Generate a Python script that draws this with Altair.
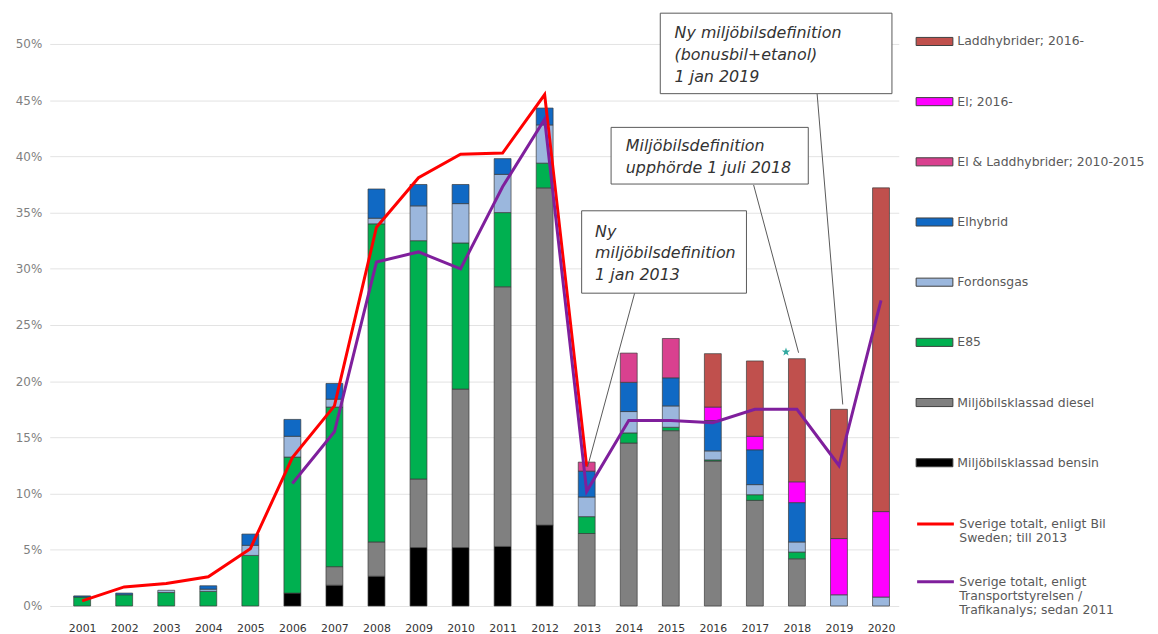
import altair as alt
import pandas as pd

years = list(range(2001, 2021))

bar_series = ["Laddhybrider; 2016-", "El; 2016-", "El & Laddhybrider; 2010-2015",
              "Elhybrid", "Fordonsgas", "E85", "Miljöbilsklassad diesel", "Miljöbilsklassad bensin"]
bar_colors = ["#c0504d", "#ff00ff", "#d9418f", "#1069c4", "#9bb7dd", "#00b050", "#808080", "#000000"]

bensin = [0, 0, 0, 0, 0, 1.15, 1.85, 2.65, 5.2, 5.2, 5.3, 7.2, 0, 0, 0, 0, 0, 0, 0, 0]
diesel = [0, 0, 0, 0, 0, 0, 1.65, 3.05, 6.1, 14.1, 23.1, 30.0, 6.45, 14.5, 15.6, 12.9, 9.4, 4.2, 0, 0]
e85 = [0.8, 1.0, 1.2, 1.3, 4.5, 12.1, 14.2, 28.3, 21.2, 13.0, 6.6, 2.2, 1.5, 0.9, 0.3, 0.1, 0.5, 0.6, 0, 0]
fordonsgas = [0, 0, 0.2, 0.2, 0.9, 1.85, 0.7, 0.5, 3.1, 3.5, 3.4, 3.4, 1.75, 1.9, 1.9, 0.8, 0.9, 0.9, 1.0, 0.8]
elhybrid = [0.1, 0.15, 0, 0.3, 1.0, 1.5, 1.4, 2.6, 1.9, 1.7, 1.4, 1.5, 2.3, 2.6, 2.5, 2.7, 3.1, 3.5, 0, 0]
el_ladd = [0, 0, 0, 0, 0, 0, 0, 0, 0, 0, 0, 0, 0.8, 2.6, 3.5, 0, 0, 0, 0, 0]
el = [0, 0, 0, 0, 0, 0, 0, 0, 0, 0, 0, 0, 0, 0, 0, 1.2, 1.2, 1.85, 5.0, 7.6]
ladd = [0, 0, 0, 0, 0, 0, 0, 0, 0, 0, 0, 0, 0, 0, 0, 4.75, 6.7, 10.95, 11.5, 28.8]

line_series = ["Sverige totalt, enligt Bil\nSweden; till 2013",
               "Sverige totalt, enligt\nTransportstyrelsen /\nTrafikanalys; sedan 2011"]
line_colors = ["#ff0000", "#7f1f9c"]
bil_sweden = [0.45, 1.7, 2.0, 2.6, 5.1, 13.2, 17.8, 33.7, 38.1, 40.2, 40.3, 45.5, 12.4,
              None, None, None, None, None, None, None]
transportstyrelsen = [None, None, None, None, None, 10.9, 15.5, 30.6, 31.5, 30.0, 37.3, 43.3, 10.2,
                      16.5, 16.5, 16.3, 17.5, 17.5, 12.5, 27.2]

# annotation callouts (in data units: year, percent)
note_texts = ["Ny miljöbilsdefinition\n(bonusbil+etanol)\n1 jan 2019",
              "Miljöbilsdefinition\nupphörde 1 juli 2018",
              "Ny\nmiljöbilsdefinition\n1 jan 2013"]
note_x1 = [2014.75, 2013.58, 2012.88]
note_x2 = [2020.26, 2018.27, 2016.80]
note_y1 = [52.74, 42.58, 35.16]
note_y2 = [45.58, 37.54, 27.83]
note_tx = [2015.09, 2013.93, 2013.20]
note_ty = [51.68, 41.65, 34.01]
lead_x1 = [2018.48, 2016.97, 2014.14]
lead_y1 = [45.58, 37.46, 27.83]
lead_x2 = [2019.09, 2018.04, 2013.02]
lead_y2 = [17.93, 22.53, 12.37]
star_x = [2017.74]
star_y = [22.6]

STAR_PATH = ("M0,-1L0.235,-0.324L0.951,-0.309L0.38,0.124L0.588,0.809L0,0.4"
             "L-0.588,0.809L-0.38,0.124L-0.951,-0.309L-0.235,-0.324Z")
RECT_PATH = "M-1,-0.22L1,-0.22L1,0.22L-1,0.22Z"

# ---- tables
stack_cols = [bensin, diesel, e85, fordonsgas, elhybrid, el_ladd, el, ladd]
stack_names = list(reversed(bar_series))
rows = []
for k, (name, vals) in enumerate(zip(stack_names, stack_cols)):
    for y, v in zip(years, vals):
        if v > 0:
            rows.append({"year": y, "serie": name, "value": v, "ord": k})
bars_df = pd.DataFrame(rows)

lrows = []
for name, vals in zip(line_series, [bil_sweden, transportstyrelsen]):
    for y, v in zip(years, vals):
        if v is not None:
            lrows.append({"year": y, "linje": name, "pct": v})
lines_df = pd.DataFrame(lrows)

notes_df = pd.DataFrame({"x1": note_x1, "x2": note_x2, "y1": note_y1, "y2": note_y2,
                         "tx": note_tx, "ty": note_ty, "text": note_texts,
                         "lx1": lead_x1, "ly1": lead_y1, "lx2": lead_x2, "ly2": lead_y2})
star_df = pd.DataFrame({"x": star_x, "y": star_y})

XS = alt.Scale(domain=[2000.3464, 2020.304], nice=False, zero=False)
YS = alt.Scale(domain=[0, 52.83], nice=False, zero=True)
FONT = "DejaVu Sans"

x_axis = alt.Axis(values=years, format="d", ticks=False, domain=False, grid=False,
                  labelFont=FONT, labelFontSize=11, labelColor="#333333", labelPadding=17,
                  title=None)
y_axis = alt.Axis(values=list(range(0, 51, 5)), labelExpr="datum.value + '%'", ticks=False,
                  domain=False, grid=True, gridColor="#e3e3e3", gridWidth=1,
                  labelFont=FONT, labelFontSize=12, labelColor="#7f7f7f", labelPadding=8,
                  title=None)

bars = alt.Chart(bars_df).mark_bar(size=17, stroke="#3a3a3a", strokeWidth=0.7).encode(
    x=alt.X("year:Q", scale=XS, axis=x_axis, title=None),
    y=alt.Y("value:Q", stack="zero", scale=YS, axis=y_axis, title=None),
    fill=alt.Fill("serie:N", scale=alt.Scale(domain=bar_series, range=bar_colors),
                  legend=alt.Legend(orient="none", legendX=872, legendY=10.5, title=None,
                                    rowPadding=34.6, labelOffset=4,
                                    symbolType=RECT_PATH, symbolSize=1369,
                                    symbolStrokeColor="#404040", symbolStrokeWidth=1)),
    order=alt.Order("ord:Q"),
)

lines = alt.Chart(lines_df).mark_line(strokeWidth=3).encode(
    x=alt.X("year:Q", scale=XS, title=None),
    y=alt.Y("pct:Q", scale=YS, title=None),
    stroke=alt.Stroke("linje:N", scale=alt.Scale(domain=line_series, range=line_colors),
                      legend=alt.Legend(orient="none", legendX=872, legendY=495.5, title=None,
                                        rowPadding=17, labelOffset=4,
                                        symbolType="stroke", symbolSize=1369,
                                        symbolStrokeWidth=3,
                                        labelExpr="split(datum.label, '\\n')")),
)

boxes = alt.Chart(notes_df).mark_rect(fill="white", stroke="#595959", strokeWidth=1).encode(
    x=alt.X("x1:Q", scale=XS, title=None), x2="x2:Q",
    y=alt.Y("y1:Q", scale=YS, title=None), y2="y2:Q",
)

leaders = alt.Chart(notes_df).mark_rule(color="#595959", strokeWidth=1).encode(
    x=alt.X("lx1:Q", scale=XS, title=None), x2="lx2:Q",
    y=alt.Y("ly1:Q", scale=YS, title=None), y2="ly2:Q",
)

texts = alt.Chart(notes_df).mark_text(align="left", baseline="top", font=FONT, fontSize=16,
                                      fontStyle="italic", color="#333333", lineBreak="\n",
                                      lineHeight=22).encode(
    x=alt.X("tx:Q", scale=XS, title=None),
    y=alt.Y("ty:Q", scale=YS, title=None),
    text="text:N",
)

star = alt.Chart(star_df).mark_point(shape=STAR_PATH, filled=True, size=80, color="#33a9a0",
                                     opacity=1).encode(
    x=alt.X("x:Q", scale=XS, title=None),
    y=alt.Y("y:Q", scale=YS, title=None),
)

chart = alt.layer(bars, lines, leaders, boxes, texts, star).properties(
    width=855, height=598, autosize="none",
    padding={"left": 42, "top": 2, "right": 253, "bottom": 28},
).configure_view(stroke=None).configure_legend(
    labelFont=FONT, labelFontSize=12.5, labelColor="#595959", labelLimit=300, padding=0,
)

chart.save("out.html", embed_options={"renderer": "svg", "actions": False})
